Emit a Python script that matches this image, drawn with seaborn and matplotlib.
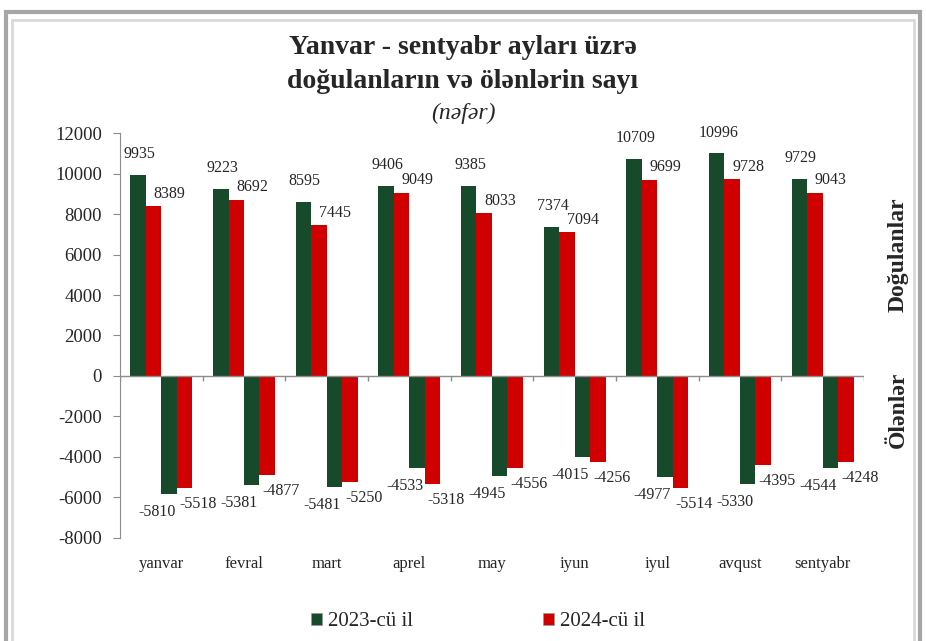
import numpy as np
import pandas as pd
import matplotlib.pyplot as plt
import seaborn as sns
from matplotlib.patches import Patch, Rectangle

# monthly births (positive) and deaths (negative), persons
months = ['yanvar', 'fevral', 'mart', 'aprel', 'may', 'iyun', 'iyul', 'avqust', 'sentyabr']
births_2023 = [9935, 9223, 8595, 9406, 9385, 7374, 10709, 10996, 9729]
births_2024 = [8389, 8692, 7445, 9049, 8033, 7094, 9699, 9728, 9043]
deaths_2023 = [-5810, -5381, -5481, -4533, -4945, -4015, -4977, -5330, -4544]
deaths_2024 = [-5518, -4877, -5250, -5318, -4556, -4256, -5514, -4395, -4248]
series_names = ['b2023', 'b2024', 'd2023', 'd2024']
legend_labels = ['2023-cü il', '2024-cü il']

green = '#174a2a'
red = '#d10000'

df = pd.DataFrame({
    'month': months * 4,
    'series': np.repeat(series_names, len(months)),
    'value': births_2023 + births_2024 + deaths_2023 + deaths_2024,
})

sns.set_style('white')
plt.rcParams['font.family'] = ['Liberation Serif', 'DejaVu Serif']
plt.rcParams['axes.unicode_minus'] = False

fig = plt.figure(figsize=(9.26, 6.41), dpi=100)
ax = fig.add_axes([0.1296, 0.1607, 0.8034, 0.6318])

sns.barplot(data=df, x='month', y='value', hue='series', hue_order=series_names,
            palette=[green, red, green, red], width=0.75, dodge=True,
            saturation=1, legend=False, ax=ax, edgecolor='none')

ax.set_ylim(-8000, 12000)
ax.set_xlim(-0.5, len(months) - 0.5)
ax.set_yticks(np.arange(-8000, 12001, 2000))
ax.set_ylabel('')
ax.set_xlabel('')
for s in ['top', 'right', 'bottom']:
    ax.spines[s].set_visible(False)
ax.spines['left'].set_color('#8c8c8c')
ax.tick_params(axis='y', left=True, length=5, color='#8c8c8c', labelsize=13.5, pad=8)
ax.tick_params(axis='x', bottom=False, length=0, labelsize=12, pad=13)

# zero line with category boundary ticks
ax.axhline(0, color='#8c8c8c', lw=1, zorder=3)
ax.vlines(np.arange(-0.5, len(months)), -250, 0, color='#8c8c8c', lw=1, zorder=3)

# value labels
offsets = {
    'b2023': (1, 15),
    'b2024': (11.5, 9),
    'd2023': (-9, -13),
    'd2024': (10, -11.5),
}
for name, cont in zip(series_names, ax.containers):
    dx, dy = offsets[name]
    for bar in cont:
        h = bar.get_height()
        x = bar.get_x() + bar.get_width() / 2
        ax.annotate(f'{int(round(h))}', (x, h), xytext=(dx, dy),
                    textcoords='offset points', ha='center', va='center',
                    fontsize=11.5)

# title block
fig.text(0.5, 1 - 47 / 641, 'Yanvar - sentyabr ayları üzrə', ha='center', va='center',
         fontsize=20, fontweight='bold')
fig.text(0.5, 1 - 82 / 641, 'doğulanların və ölənlərin sayı', ha='center', va='center',
         fontsize=20, fontweight='bold')
fig.text(0.5, 1 - 113 / 641, '(nəfər)', ha='center', va='center',
         fontsize=17, style='italic')

# side labels
fig.text(898 / 926, 1 - 255 / 641, 'Doğulanlar', rotation=90, ha='center', va='center',
         fontsize=17, fontweight='bold')
fig.text(898 / 926, 1 - 410 / 641, 'Ölənlər', rotation=90, ha='center', va='center',
         fontsize=17, fontweight='bold')

# legend
handles = [Patch(facecolor=green, edgecolor='#999999', lw=0.5),
           Patch(facecolor=red, edgecolor='#999999', lw=0.5)]
fig.legend(handles, legend_labels, loc='center', bbox_to_anchor=(478 / 926, 1 - 622 / 641),
           ncol=2, frameon=False, fontsize=15, handlelength=0.55, handleheight=0.55,
           handletextpad=0.3, columnspacing=6.2)

# outer frame
fig.patches.append(Rectangle((6 / 926, -0.02), 914 / 926, 1 - 12 / 641 + 0.02,
                             transform=fig.transFigure, fill=False,
                             edgecolor='#a6a6a6', lw=3))
fig.patches.append(Rectangle((12 / 926, -0.02), 902 / 926, 1 - 20 / 641 + 0.02,
                             transform=fig.transFigure, fill=False,
                             edgecolor='#d9d9d9', lw=2))

fig.savefig('out.png', dpi=100)
